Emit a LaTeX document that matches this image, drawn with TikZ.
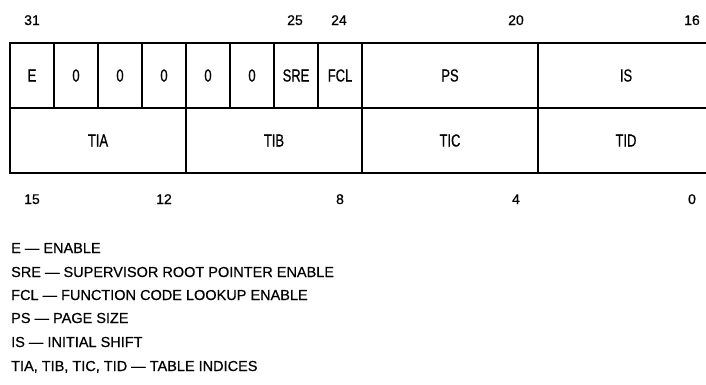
\documentclass[tikz,border=0pt]{standalone}
\usepackage{fontspec}
\setmainfont[FakeBold=0.6]{Liberation Sans}
\newfontfamily\cellfamily[FakeStretch=0.74, FakeBold=0.6]{Liberation Sans}
\usepackage{tikz}
\usetikzlibrary{positioning}
\newcommand{\cellfont}{\cellfamily\fontsize{17.5}{20}\selectfont}
\newcommand{\numfont}{\fontsize{14}{16}\selectfont}
\newcommand{\legfont}{\fontsize{14.5}{17}\selectfont}
\tikzset{
  bitcell/.style={draw, line width=1.3pt, minimum width=44pt, minimum height=65pt,
    inner sep=0pt, outer sep=0pt, font=\cellfont},
  field/.style={bitcell, minimum width=176pt},
  bitno/.style={font=\numfont, inner sep=0pt, anchor=base},
  legend/.style={font=\legfont, inner sep=0pt, anchor=base west},
}
\begin{document}
\begin{tikzpicture}[x=1pt, y=-1pt]
  \useasboundingbox (0,0) rectangle (706,384);
  % upper half of the register
  \node[bitcell, anchor=north west] (e) at (10,43) {E};
  \node[bitcell, right=0pt of e] (z30) {0};
  \node[bitcell, right=0pt of z30] (z29) {0};
  \node[bitcell, right=0pt of z29] (z28) {0};
  \node[bitcell, right=0pt of z28] (z27) {0};
  \node[bitcell, right=0pt of z27] (z26) {0};
  \node[bitcell, right=0pt of z26] (sre) {SRE};
  \node[bitcell, right=0pt of sre] (fcl) {FCL};
  \node[field, right=0pt of fcl] (ps) {PS};
  \node[field, right=0pt of ps] (is) {IS};
  % lower half
  \node[field, anchor=north west] (tia) at (e.south west) {TIA};
  \node[field, right=0pt of tia] (tib) {TIB};
  \node[field, right=0pt of tib] (tic) {TIC};
  \node[field, right=0pt of tic] (tid) {TID};
  % bit numbers
  \node[bitno] (n31) at (32,25) {31};
  \node[bitno] (n25) at (295,25) {25};
  \node[bitno] (n24) at (339,25) {24};
  \node[bitno] (n20) at (516,25) {20};
  \node[bitno] (n16) at (692,25) {16};
  \node[bitno] (n15) at (32,204) {15};
  \node[bitno] (n12) at (164,204) {12};
  \node[bitno] (n8) at (340,204) {8};
  \node[bitno] (n4) at (516,204) {4};
  \node[bitno] (n0) at (692,204) {0};
  % key
  \node[legend] (k1) at (11,253) {E — ENABLE};
  \node[legend] (k2) at (11,277) {SRE — SUPERVISOR ROOT POINTER ENABLE};
  \node[legend] (k3) at (11,300) {FCL — FUNCTION CODE LOOKUP ENABLE};
  \node[legend] (k4) at (11,323) {PS — PAGE SIZE};
  \node[legend] (k5) at (11,347) {IS — INITIAL SHIFT};
  \node[legend] (k6) at (11,371) {TIA, TIB, TIC, TID — TABLE INDICES};
\end{tikzpicture}
\end{document}
